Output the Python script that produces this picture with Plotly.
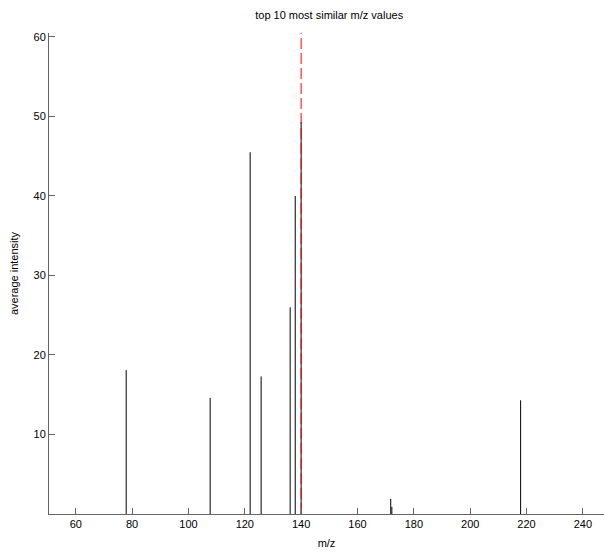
import plotly.graph_objects as go

# Data
mz_values = [77.9, 107.7, 121.9, 125.8, 136.1, 137.9, 140.0, 171.8, 172.2, 217.9]
avg_intensity = [18.1, 14.6, 45.5, 17.3, 26.0, 40.0, 49.3, 1.9, 0.9, 14.3]
target_mz = 140.0
x_ticks = [60, 80, 100, 120, 140, 160, 180, 200, 220, 240]
y_ticks = [10, 20, 30, 40, 50, 60]

x_range = [50.5, 247.5]
y_range = [0, 60.5]

# build stems from data
sx, sy = [], []
for m, v in zip(mz_values, avg_intensity):
    sx += [m, m, None]
    sy += [0, v, None]

fig = go.Figure()
fig.add_trace(go.Scatter(x=sx, y=sy, mode="lines",
                         line=dict(color="black", width=1),
                         hoverinfo="skip", showlegend=False))
fig.add_trace(go.Scatter(x=[target_mz, target_mz], y=y_range, mode="lines",
                         line=dict(color="#ff0000", width=1, dash="11px,4px"),
                         hoverinfo="skip", showlegend=False))

font = dict(family="Liberation Sans, Arial, sans-serif", size=11, color="black")

fig.update_layout(
    width=604, height=554,
    margin=dict(l=49, r=0, t=33, b=40),
    paper_bgcolor="white", plot_bgcolor="white",
    font=font,
    title=dict(text="top 10 most similar m/z values", x=0.545, xref="container",
               xanchor="center", y=1 - 15 / 554, yanchor="middle", font=font),
    showlegend=False,
)
fig.update_xaxes(range=x_range, tickvals=x_ticks, ticks="inside", ticklen=6,
                 tickcolor="#666", showline=True, linecolor="#666", linewidth=1,
                 showgrid=False, zeroline=False, tickfont=font,
                 title=dict(text="m/z", font=font, standoff=10))
fig.update_yaxes(range=y_range, tickvals=y_ticks, ticks="inside", ticklen=6,
                 tickcolor="#666", showline=True, linecolor="#666", linewidth=1,
                 showgrid=False, zeroline=False, tickfont=font,
                 title=dict(text="average intensity", font=font, standoff=12))

fig.write_html("out.html", config={"displayModeBar": False},
               post_script="document.body.style.margin='0';document.body.style.padding='0';")
